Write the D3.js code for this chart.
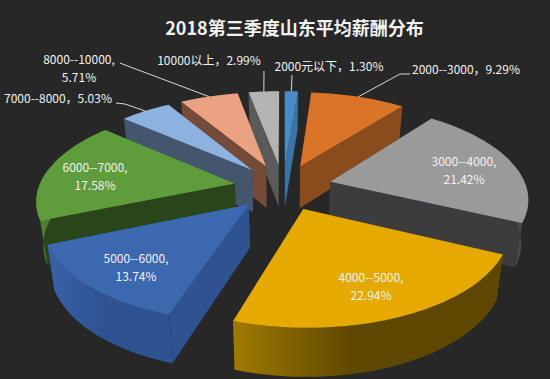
<!DOCTYPE html>
<html>
<head>
<meta charset="utf-8">
<script src="https://cdn.jsdelivr.net/npm/d3@7"></script>
<style>
  html, body { margin: 0; padding: 0; background: #272727; }
  svg { display: block; }
  text { font-family: "Noto Sans CJK SC", "Open Sans", sans-serif; fill: #f2f2f2; }
</style>
</head>
<body>
<svg id="chart" width="550" height="379"></svg>
<script>
const categories = ['2000元以下', '2000--3000', '3000--4000', '4000--5000', '5000--6000', '6000--7000', '7000--8000', '8000--10000', '10000以上'];
const shares = [1.30, 9.29, 21.42, 22.94, 13.74, 17.58, 5.03, 5.71, 2.99];
const topColors = ['#4a8bc6', '#d97428', '#9a9a9a', '#e5a900', '#3c68b0', '#5f9c3b', '#8db2e0', '#eaa282', '#b4b4b4'];
const sideColors = ['#3a74a8', '#8a4c1c', '#3c3c3e', '#5f4700', '#2f5291', '#2a451a', '#44566e', '#744a38', '#5a5a5a'];
// rim runs lighter at the left end, darker towards the middle
const rimLeft = ['#2c5a84', '#9a5620', '#4a4a4c', '#a07a00', '#3a62a8', '#4d7f30', '#44566e', '#744a38', '#5e5e5e'];
const rimRight = ['#2c5a84', '#9a5620', '#4a4a4c', '#5e4700', '#2f5291', '#4d7f30', '#44566e', '#744a38', '#5e5e5e'];

// where each label goes, inside = two lines on the slice, outside gets a leader
const labelLayout = [
  { x: 329, y: 67, lines: 1, leader: [[292, 75]] },
  { x: 466, y: 70, lines: 1, leader: [[410, 74], [400, 74]] },
  { x: 464, y: 162, lines: 2 },
  { x: 371, y: 278, lines: 2 },
  { x: 136, y: 259, lines: 2 },
  { x: 95, y: 168, lines: 2 },
  { x: 58, y: 99, lines: 1, leader: [[116, 103], [125, 104]] },
  { x: 79, y: 60, lines: 2, leader: [[120, 63], [125, 65]] },
  { x: 209, y: 61, lines: 1, leader: [[264, 71]] }
];

const svg = d3.select('#chart');
const defs = svg.append('defs');
const cx = 283, cy = 187;
const explode = 0.25;

// flat pie coords to screen, back of the pie shrinks, z=1 is the underside
function project(X, Y, Z) {
  const w = (1 - 0.16 * Y) * (1 + 0.03 * Z);
  return [cx + 196 * X / w, cy + (92 * Y + 44 * Z) / w];
}

const slices = d3.pie().sort(null).value(d => d)(shares).map((s, i) => {
  const mid = (s.startAngle + s.endAngle) / 2;
  return { ...s, i, mid, ox: explode * Math.sin(mid), oy: -explode * Math.cos(mid) };
});

function pt(s, a, r, z) {
  return project(s.ox + r * Math.sin(a), s.oy - r * Math.cos(a), z);
}

function arcAngles(a0, a1) {
  const n = Math.max(2, Math.ceil((a1 - a0) / 0.03));
  return d3.range(n + 1).map(k => a0 + (a1 - a0) * k / n);
}

const line = d3.line();
const order = d3.sort(slices, d => d.oy);

const g = svg.append('g');
order.forEach(s => {
  const side = g.append('g').attr('class', 'slice');
  // radial walls first
  [s.startAngle, s.endAngle].forEach(a => {
    const quad = [pt(s, a, 0, 0), pt(s, a, 1, 0), pt(s, a, 1, 1), pt(s, a, 0, 1)];
    side.append('path').attr('d', line(quad) + 'Z').attr('fill', sideColors[s.i]);
  });
  // outer wall, only the part turned to the viewer
  const a0 = Math.max(s.startAngle, Math.PI * 0.45);
  const a1 = Math.min(s.endAngle, Math.PI * 1.55);
  if (a1 > a0) {
    const as = arcAngles(a0, a1);
    const wall = as.map(a => pt(s, a, 1, 0)).concat(as.slice().reverse().map(a => pt(s, a, 1, 1)));
    const grad = defs.append('linearGradient').attr('id', 'rim' + s.i)
      .attr('x1', 0).attr('x2', 1).attr('y1', 0).attr('y2', 0);
    grad.append('stop').attr('offset', 0).attr('stop-color', rimLeft[s.i]);
    grad.append('stop').attr('offset', 0.45).attr('stop-color', rimRight[s.i]);
    side.append('path').attr('d', line(wall) + 'Z').attr('fill', `url(#rim${s.i})`);
  }
  const top = [pt(s, 0, 0, 0)].concat(arcAngles(s.startAngle, s.endAngle).map(a => pt(s, a, 1, 0)));
  side.append('path').attr('d', line(top) + 'Z').attr('fill', topColors[s.i]);
});

// leaders
slices.forEach(s => {
  const lay = labelLayout[s.i];
  if (!lay.leader) return;
  const pts = lay.leader.concat([pt(s, s.mid, 1, 0)]);
  svg.append('path').attr('d', line(pts)).attr('fill', 'none').attr('stroke', '#d9d9d9').attr('stroke-width', 1);
});

// labels
slices.forEach(s => {
  const lay = labelLayout[s.i];
  const pct = shares[s.i].toFixed(2) + '%';
  const t = svg.append('text').attr('text-anchor', 'middle').attr('font-size', 12);
  if (lay.lines === 2) {
    t.append('tspan').attr('x', lay.x).attr('y', lay.y + 4).text(categories[s.i] + ',');
    t.append('tspan').attr('x', lay.x).attr('y', lay.y + 22).text(pct);
  } else {
    t.attr('x', lay.x).attr('y', lay.y + 4).text(categories[s.i] + '，' + pct);
  }
});

svg.append('text').attr('x', 294.5).attr('y', 35).attr('text-anchor', 'middle')
  .attr('font-size', 18).attr('font-weight', 700).attr('fill', '#ffffff')
  .text('2018第三季度山东平均薪酬分布');
</script>
</body>
</html>
